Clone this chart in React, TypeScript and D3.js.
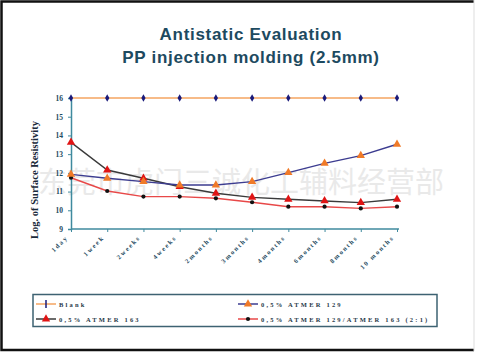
import { useEffect, useRef } from "react"
import * as d3 from "d3"

const categories = ["1day", "1week", "2weeks", "4weeks", "2months", "3months", "4months", "6months", "8months", "10 months"]
const blank = [16, 16, 16, 16, 16, 16, 16, 16, 16, 16]
const atmer129 = [11.92, 11.71, 11.53, 11.35, 11.35, 11.53, 12.01, 12.51, 12.92, 13.53]
const atmer163 = [13.63, 12.15, 11.71, 11.26, 10.91, 10.69, 10.59, 10.5, 10.41, 10.59]
const atmerMix = [11.74, 11.03, 10.73, 10.73, 10.64, 10.43, 10.19, 10.19, 10.1, 10.19]
const yTicks = [9, 10, 11, 12, 13, 14, 15, 16]

const series = [
  { name: "Blank", values: blank, line: "#f4a460", marker: "#1a1a7a", shape: "diamond" },
  { name: "0,5% ATMER 129", values: atmer129, line: "#3c3c90", marker: "#f07a28", shape: "triangle" },
  { name: "0,5% ATMER 163", values: atmer163, line: "#3a3a3a", marker: "#e01414", shape: "triangle" },
  { name: "0,5% ATMER 129/ATMER 163 (2:1)", values: atmerMix, line: "#e84848", marker: "#111111", shape: "circle" },
]

export default function App() {
  const svgRef = useRef<SVGSVGElement>(null)

  useEffect(() => {
    const svg = d3.select(svgRef.current)
    svg.selectAll("*").remove()

    const W = 480, H = 352
    svg.attr("width", W).attr("height", H)
    svg.append("rect").attr("width", W).attr("height", H).attr("fill", "#fff")

    // frame
    svg.append("path")
      .attr("d", "M474,1.5 H1.5 V350 H474")
      .attr("fill", "none").attr("stroke", "#111").attr("stroke-width", 2.5)
    svg.append("line").attr("x1", 474).attr("x2", 474).attr("y1", 0).attr("y2", 351)
      .attr("stroke", "#ddd").attr("stroke-width", 1)

    // title
    const title = svg.append("text")
      .attr("text-anchor", "middle")
      .attr("font-family", "'Liberation Sans', Arial, sans-serif")
      .attr("font-weight", "bold").attr("font-size", 17)
      .attr("letter-spacing", 0.7)
      .attr("fill", "#1d4a60")
    title.append("tspan").attr("x", 251).attr("y", 40).text("Antistatic Evaluation")
    title.append("tspan").attr("x", 251).attr("y", 63).text("PP injection molding (2.5mm)")

    const x = d3.scalePoint<string>().domain(categories).range([71, 397])
    const y = d3.scaleLinear().domain([9, 16]).range([229, 98])

    // watermark
    svg.append("text")
      .attr("x", 38).attr("y", 193)
      .attr("font-family", "'Noto Sans CJK SC', sans-serif")
      .attr("font-size", 29).attr("fill", "#d8d8d8").attr("opacity", 0.55)
      .text("东莞市虎门三诚化工辅料经营部")

    const axisColor = "#3f8a9e"
    const tickFont = "'Liberation Serif', 'Times New Roman', serif"

    // y axis
    const yAxis = svg.append("g").attr("transform", "translate(71,0)")
      .call(d3.axisLeft(y).tickValues(yTicks).tickFormat(d3.format("d")).tickSize(3).tickPadding(5))
    yAxis.select(".domain").attr("stroke", axisColor).attr("stroke-width", 1.5)
    yAxis.selectAll(".tick line").attr("stroke", axisColor)
    yAxis.selectAll(".tick text")
      .attr("font-family", tickFont).attr("font-weight", "bold").attr("font-size", 7.5)
      .attr("fill", "#1d4a60")

    // x axis
    const xAxis = svg.append("g").attr("transform", "translate(0,229)")
      .call(d3.axisBottom(x).tickSize(3).tickSizeOuter(0))
    xAxis.select(".domain").attr("stroke", axisColor).attr("stroke-width", 1.5)
      .attr("d", `M71,0H${x.range()[1] + 2}`)
    xAxis.selectAll(".tick line").attr("stroke", axisColor)
    xAxis.selectAll(".tick text")
      .attr("font-family", tickFont).attr("font-weight", "bold").attr("font-size", 6.5)
      .attr("letter-spacing", 1.8)
      .attr("fill", "#1d4a60")
      .attr("text-anchor", "end")
      .attr("dy", 0).attr("y", 0)
      .attr("transform", "translate(-3,9) rotate(-45)")

    // y label
    svg.append("text")
      .attr("transform", "translate(38,180) rotate(-90)")
      .attr("text-anchor", "middle")
      .attr("font-family", tickFont).attr("font-weight", "bold").attr("font-size", 10.5)
      .attr("fill", "#1a2a3a")
      .text("Log. of Surface Resistivity")

    const line = d3.line<number>().x((d, i) => x(categories[i])!).y(d => y(d))
    const symbolOf = (s: string) =>
      s === "triangle" ? d3.symbol(d3.symbolTriangle, 30)
        : s === "circle" ? d3.symbol(d3.symbolCircle, 14)
          : d3.symbol(d3.symbolDiamond, 16)

    const drawOrder = [series[0], series[3], series[2], series[1]]
    drawOrder.forEach(s => {
      svg.append("path").datum(s.values)
        .attr("d", line).attr("fill", "none")
        .attr("stroke", s.line).attr("stroke-width", 1.4)
    })
    drawOrder.forEach(s => {
      svg.append("g").selectAll("path").data(s.values).join("path")
        .attr("transform", (d, i) => `translate(${x(categories[i])},${y(d)})`)
        .attr("d", symbolOf(s.shape)())
        .attr("fill", s.marker)
    })

    // legend
    svg.append("rect").attr("x", 33).attr("y", 294.5).attr("width", 404).attr("height", 32)
      .attr("fill", "#fff").attr("stroke", "#3d6272").attr("stroke-width", 1.5)
    const pos = [[36, 304], [238, 304], [36, 319], [238, 319]]
    series.forEach((s, i) => {
      const [lx, ly] = pos[i]
      const g = svg.append("g").attr("transform", `translate(${lx},${ly})`)
      g.append("line").attr("x1", 0).attr("x2", 20).attr("stroke", s.line).attr("stroke-width", 1.5)
      if (i === 0) {
        g.append("line").attr("x1", 10).attr("x2", 10).attr("y1", -4).attr("y2", 4)
          .attr("stroke", s.marker).attr("stroke-width", 1.5)
      } else {
        g.append("path").attr("transform", "translate(10,0)")
          .attr("d", symbolOf(s.shape)()).attr("fill", s.marker)
      }
      g.append("text").attr("x", 23).attr("y", 2.5)
        .attr("font-family", tickFont).attr("font-weight", "bold").attr("font-size", 6.5)
        .attr("letter-spacing", 2.2).attr("fill", "#2a3a4a")
        .text(s.name)
    })
  }, [])

  return <svg ref={svgRef} style={{ position: "absolute", left: 0, top: 0 }} />
}
